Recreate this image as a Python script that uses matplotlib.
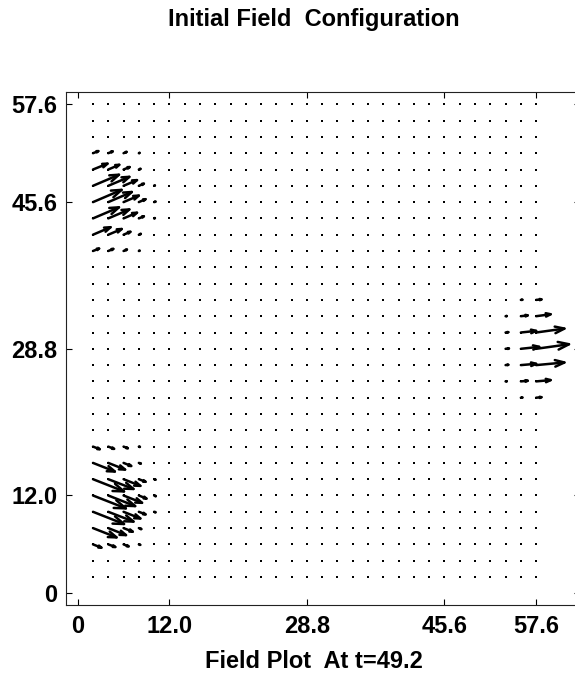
import numpy as np
import matplotlib
matplotlib.use('Agg')
import matplotlib.pyplot as plt
from matplotlib.collections import LineCollection

plt.rcParams['font.family'] = ['Liberation Sans', 'DejaVu Sans']
plt.rcParams['font.weight'] = 'bold'

# ---------------- data ----------------
n_cols = 30
n_rows = 30
tick_pos = [0, 6, 15, 24, 30]
tick_labels = ['0', '12.0', '28.8', '45.6', '57.6']
title_text = 'Initial Field  Configuration'
xlabel_text = 'Field Plot  At t=49.2'

# upper-left cluster: columns 1..5, grid rows (counted from bottom)
top_cols = [1, 2, 3, 4, 5]
top_rows = [27, 26, 25, 24, 23, 22, 21]
top_u = [[0.35, 0.29, 0.20, 0.05, 0.00],
         [0.95, 0.72, 0.40, 0.11, 0.00],
         [1.70, 1.38, 0.88, 0.33, 0.05],
         [1.87, 1.54, 1.00, 0.44, 0.09],
         [1.70, 1.38, 0.88, 0.33, 0.05],
         [1.15, 0.88, 0.45, 0.13, 0.00],
         [0.40, 0.33, 0.22, 0.05, 0.00]]
top_v = [[0.13, 0.11, 0.08, 0.02, 0.00],
         [0.36, 0.29, 0.15, 0.04, 0.00],
         [0.68, 0.55, 0.35, 0.13, 0.02],
         [0.75, 0.62, 0.40, 0.18, 0.03],
         [0.68, 0.55, 0.35, 0.13, 0.02],
         [0.46, 0.35, 0.18, 0.05, 0.00],
         [0.15, 0.13, 0.09, 0.02, 0.00]]

# lower-left cluster
bot_cols = [1, 2, 3, 4, 5]
bot_rows = [9, 8, 7, 6, 5, 4, 3]
bot_u = [[0.44, 0.38, 0.28, 0.07, 0.00],
         [1.43, 1.10, 0.50, 0.13, 0.00],
         [2.03, 1.65, 1.10, 0.44, 0.09],
         [2.15, 1.76, 1.21, 0.50, 0.11],
         [2.03, 1.65, 1.10, 0.44, 0.09],
         [1.54, 1.16, 0.60, 0.16, 0.00],
         [0.55, 0.46, 0.33, 0.09, 0.00]]
bot_v = [[-0.16, -0.14, -0.10, -0.02, 0.00],
         [-0.53, -0.41, -0.19, -0.04, 0.00],
         [-0.75, -0.60, -0.41, -0.16, -0.03],
         [-0.79, -0.65, -0.45, -0.19, -0.04],
         [-0.75, -0.60, -0.41, -0.16, -0.03],
         [-0.57, -0.43, -0.22, -0.06, 0.00],
         [-0.20, -0.16, -0.12, -0.03, 0.00]]

# right cluster
right_cols = [27, 28, 29, 30]
right_rows = [18, 17, 16, 15, 14, 13, 12]
right_u = [[0.00, 0.00, 0.10, 0.35],
           [0.00, 0.08, 0.45, 0.95],
           [0.00, 0.18, 1.00, 1.85],
           [0.00, 0.22, 1.20, 2.15],
           [0.00, 0.18, 1.00, 1.85],
           [0.00, 0.08, 0.45, 0.95],
           [0.00, 0.00, 0.10, 0.35]]
right_v = [[0.00, 0.00, 0.01, 0.03],
           [0.00, 0.01, 0.05, 0.12],
           [0.00, 0.02, 0.10, 0.24],
           [0.00, 0.02, 0.12, 0.28],
           [0.00, 0.02, 0.08, 0.16],
           [0.00, 0.01, 0.04, 0.08],
           [0.00, 0.00, 0.01, 0.03]]

# ---------------- build field ----------------
U = np.zeros((n_rows + 1, n_cols + 1))
V = np.zeros((n_rows + 1, n_cols + 1))
for rows, cols, uu, vv in [(top_rows, top_cols, top_u, top_v),
                           (bot_rows, bot_cols, bot_u, bot_v),
                           (right_rows, right_cols, right_u, right_v)]:
    for ri, r in enumerate(rows):
        for ci, c in enumerate(cols):
            U[r, c] = uu[ri][ci]
            V[r, c] = vv[ri][ci]

fig = plt.figure(figsize=(5.75, 6.76), dpi=100)
ax = fig.add_axes([66 / 575, 71 / 676, 514 / 575, 513 / 676])
ax.set_xlim(-0.767, 32.87)
ax.set_ylim(-0.718, 30.755)

# grid dots
gx, gy = np.meshgrid(np.arange(1, n_cols + 1), np.arange(1, n_rows + 1))
ax.scatter(gx.ravel(), gy.ravel(), s=2.6, c='black', marker='s', linewidths=0, zorder=2)

# MATLAB-style arrows (shaft + two head strokes)
alpha, beta = 0.33, 0.33
segs = []
for r in range(1, n_rows + 1):
    for c in range(1, n_cols + 1):
        u, v = U[r, c], V[r, c]
        if u == 0 and v == 0:
            continue
        x0, y0 = c, r
        x1, y1 = c + u, r + v
        segs.append([(x0, y0), (x1, y1)])
        h1 = (x1 - alpha * (u + beta * v), y1 - alpha * (v - beta * u))
        h2 = (x1 - alpha * (u - beta * v), y1 - alpha * (v + beta * u))
        segs.append([h1, (x1, y1), h2])
lc = LineCollection(segs, colors='black', linewidths=1.8, capstyle='round',
                    joinstyle='round', zorder=3)
ax.add_collection(lc)

ax.set_xticks(tick_pos)
ax.set_xticklabels(tick_labels)
ax.set_yticks(tick_pos)
ax.set_yticklabels(tick_labels)
ax.tick_params(direction='in', top=True, right=True, length=4, width=0.8,
               labelsize=17, colors='black')
ax.tick_params(axis='x', pad=7)
ax.tick_params(axis='y', pad=6)
for lab in ax.get_xticklabels() + ax.get_yticklabels():
    lab.set_fontweight('bold')
for s in ax.spines.values():
    s.set_linewidth(0.8)
    s.set_color('#222222')

fig.text(314 / 575, 1 - 26 / 676, title_text, ha='center', va='baseline',
         fontsize=17, fontweight='bold')
fig.text(314 / 575, 1 - 668 / 676, xlabel_text, ha='center', va='baseline',
         fontsize=17, fontweight='bold')

fig.savefig('out.png', dpi=100)
